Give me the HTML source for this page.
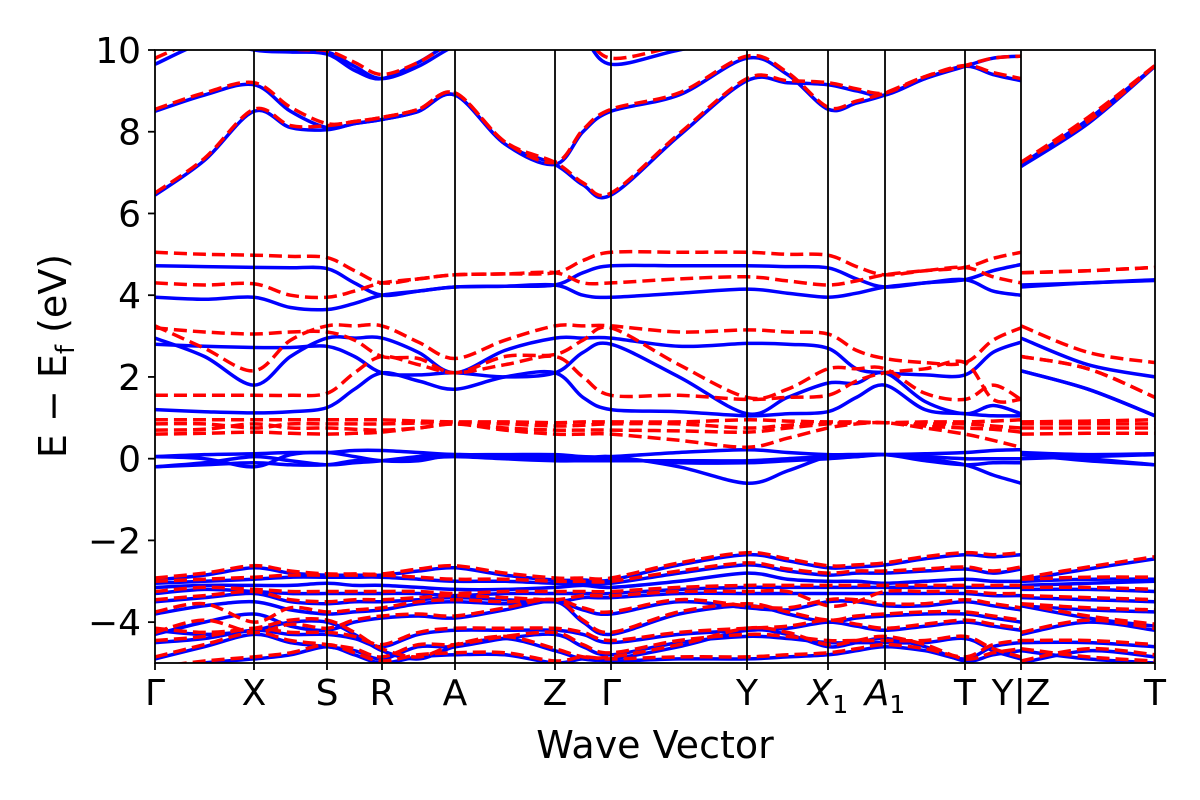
<!DOCTYPE html>
<html><head><meta charset="utf-8"><style>
html,body{margin:0;padding:0;background:#fff;}
svg text{font-family:"DejaVu Sans","Liberation Sans",sans-serif;fill:#000;}
</style></head><body>
<svg id="chart" width="1200" height="800" viewBox="0 0 1200 800" xmlns="http://www.w3.org/2000/svg" style="position:absolute;left:0;top:0">
<g id="bands"></g>
<g id="axes"></g>
</svg>
<script>
// high-symmetry point path coordinates
const tickK = [0,0.99,1.72,2.27,3.0,4.0,4.56,5.92,6.73,7.30,8.10,8.66,10.0];
const tickLabels = ["Γ","X","S","R","A","Z","Γ","Y","X1","A1","T","Y|Z","T"];
const yTicks = [-4,-2,0,2,4,6,8,10];
// band energies sampled at [Γ,m,X,m,S,m,R,m,A,m,Z,m,Γ,m,Y,m,X1,m,A1,m,T,m,Y | Z,m,T]
const blueBands = [
[6.45,7.3,8.5,8.1,8.05,8.2,8.3,8.5,8.9,7.7,7.2,6.7,6.45,7.9,9.25,9.2,9.15,9.0,8.9,9.3,9.6,9.4,9.25, 7.15,8.2,9.6],
[8.5,8.9,9.15,8.5,8.1,8.2,8.3,8.5,8.9,7.7,7.2,8.0,8.5,8.9,9.8,9.4,8.55,8.7,8.9,9.3,9.6,9.8,9.85, 7.2,8.3,9.6],
[9.65,10.2,10.5,10.0,9.95,9.6,9.3,9.6,10.1,10.5,10.5,10.3,9.65,10.0,10.3,10.5,10.5,10.5,10.5,10.5,10.5,10.5,10.5, 10.5,10.5,10.5],
[10.5,10.3,10.0,9.95,9.9,9.5,9.3,9.7,10.2,10.5,10.5,10.5,10.5,10.5,10.5,10.5,10.5,10.5,10.5,10.5,10.5,10.5,10.5, 10.5,10.5,10.5],
[4.72,4.7,4.68,4.67,4.65,4.3,4.0,4.1,4.2,4.22,4.25,4.55,4.72,4.72,4.72,4.7,4.67,4.4,4.2,4.3,4.38,4.6,4.75, 4.25,4.3,4.38],
[3.95,3.9,3.95,3.7,3.65,3.8,4.0,4.1,4.2,4.22,4.25,4.0,3.95,4.05,4.15,4.05,3.95,4.05,4.2,4.3,4.38,4.1,4.0, 4.2,4.3,4.36],
[2.95,2.5,1.8,2.5,2.95,2.95,2.95,2.6,2.1,2.65,2.95,2.95,2.95,2.75,2.82,2.8,2.7,2.2,2.1,2.05,2.05,2.6,2.85, 2.95,2.3,2.0],
[2.8,2.75,2.72,2.72,2.75,2.5,2.1,2.05,2.1,2.0,2.1,2.6,2.8,2.0,1.1,1.5,1.85,1.85,2.1,1.4,1.1,1.3,1.1, 2.15,1.7,1.05],
[1.2,1.15,1.12,1.15,1.25,1.7,2.1,1.9,1.7,2.0,2.1,1.5,1.2,1.15,1.05,1.1,1.15,1.5,1.8,1.2,1.1,1.05,1.05, 2.15,1.7,1.05],
[0.05,0.1,0.12,0.15,0.15,0.2,0.2,0.15,0.1,0.1,0.1,0.05,0.05,0.15,0.22,0.15,0.1,0.1,0.1,0.12,0.15,0.2,0.22, 0.15,0.1,0.12],
[-0.2,-0.1,0.05,-0.05,-0.15,-0.1,-0.05,0.05,0.1,0.0,-0.05,-0.05,-0.05,-0.05,-0.05,0.0,0.05,0.05,0.1,0.05,0.0,0.0,0.0, 0.0,0.05,0.1],
[0.05,0.0,-0.2,0.1,0.15,0.05,-0.05,-0.05,0.1,0.05,0.05,0.0,0.05,-0.2,-0.6,-0.3,0.05,0.1,0.1,0.0,-0.15,-0.4,-0.6, 0.1,0.0,-0.15],
[-0.2,-0.15,-0.1,-0.15,-0.15,-0.05,-0.05,0.0,0.05,0.0,0.0,0.0,0.0,-0.1,-0.1,-0.05,0.0,0.05,0.1,-0.05,-0.15,-0.1,-0.1, 0.1,-0.05,-0.15],
[-2.97,-2.85,-2.67,-2.8,-2.85,-2.85,-2.85,-2.75,-2.67,-2.85,-2.97,-2.97,-2.97,-2.6,-2.35,-2.5,-2.67,-2.65,-2.6,-2.45,-2.35,-2.4,-2.35, -2.97,-2.7,-2.45],
[-3.05,-3.0,-2.95,-2.9,-2.9,-2.9,-2.9,-2.95,-3.0,-3.0,-3.05,-3.05,-3.05,-2.8,-2.6,-2.75,-2.85,-2.8,-2.8,-2.75,-2.7,-2.8,-2.7, -3.0,-2.95,-2.95],
[-3.15,-3.1,-3.1,-3.1,-3.05,-3.1,-3.1,-3.15,-3.2,-3.2,-3.15,-3.1,-3.15,-3.0,-2.8,-2.95,-3.0,-3.0,-3.05,-3.0,-2.95,-3.0,-3.0, -3.1,-3.05,-3.0],
[-3.3,-3.2,-3.25,-3.3,-3.3,-3.3,-3.3,-3.3,-3.35,-3.3,-3.3,-3.3,-3.3,-3.2,-3.15,-3.15,-3.15,-3.15,-3.15,-3.15,-3.15,-3.15,-3.15, -3.2,-3.2,-3.25],
[-3.5,-3.4,-3.3,-3.5,-3.55,-3.5,-3.5,-3.45,-3.4,-3.45,-3.5,-3.4,-3.4,-3.3,-3.3,-3.3,-3.3,-3.3,-3.3,-3.3,-3.3,-3.35,-3.35, -3.4,-3.45,-3.5],
[-3.8,-3.6,-3.5,-3.7,-3.8,-3.75,-3.7,-3.55,-3.5,-3.55,-3.5,-3.7,-3.8,-3.5,-3.65,-3.7,-3.5,-3.5,-3.6,-3.6,-3.5,-3.6,-3.7, -3.6,-3.7,-3.75],
[-4.3,-4.0,-3.8,-4.1,-4.2,-4.0,-3.9,-3.85,-3.9,-3.7,-3.5,-4.0,-4.3,-3.8,-3.6,-3.8,-4.0,-3.9,-3.85,-3.8,-3.8,-3.9,-4.0, -3.6,-3.9,-4.1],
[-4.5,-4.4,-4.2,-4.3,-4.3,-4.4,-4.6,-4.3,-4.2,-4.2,-4.2,-4.3,-4.5,-4.3,-4.2,-4.15,-4.0,-4.1,-4.2,-4.1,-4.0,-4.1,-4.2, -4.3,-4.0,-4.2],
[-4.9,-4.6,-4.3,-4.5,-4.6,-4.7,-4.9,-4.6,-4.6,-4.4,-4.3,-4.6,-4.8,-4.5,-4.35,-4.4,-4.5,-4.5,-4.5,-4.5,-4.4,-4.7,-4.9, -4.5,-4.5,-4.6],
[-5.2,-5.0,-4.9,-4.8,-4.6,-4.8,-5.0,-4.85,-4.8,-4.8,-5.0,-4.9,-4.95,-4.9,-4.9,-4.85,-4.8,-4.7,-4.6,-4.7,-4.9,-4.6,-4.5, -5.0,-4.7,-4.85],
[-4.2,-4.3,-4.2,-4.0,-4.0,-4.3,-4.7,-4.9,-4.6,-4.4,-4.7,-4.9,-4.9,-4.6,-4.2,-4.3,-4.6,-4.5,-4.4,-4.6,-4.95,-4.8,-4.7, -4.7,-4.9,-5.0]
];
const redBands = [
[6.5,7.35,8.55,8.15,8.15,8.25,8.35,8.55,8.95,7.75,7.25,6.75,6.5,7.95,9.3,9.25,9.2,9.05,8.95,9.35,9.62,9.45,9.3, 7.25,8.25,9.62],
[8.55,8.95,9.2,8.6,8.2,8.25,8.35,8.55,8.95,7.75,7.25,8.05,8.55,8.95,9.85,9.45,8.6,8.75,8.95,9.35,9.62,9.8,9.85, 7.25,8.35,9.62],
[9.8,10.3,10.5,10.05,9.98,9.7,9.4,9.7,10.2,10.5,10.5,10.4,9.8,10.1,10.4,10.5,10.5,10.5,10.5,10.5,10.5,10.5,10.5, 10.5,10.5,10.5],
[5.05,5.0,4.98,4.95,4.92,4.6,4.3,4.4,4.5,4.52,4.55,4.85,5.05,5.05,5.05,5.0,4.98,4.7,4.5,4.6,4.68,4.9,5.05, 4.55,4.6,4.68],
[4.3,4.25,4.28,4.0,3.95,4.1,4.3,4.4,4.5,4.52,4.55,4.3,4.3,4.4,4.45,4.35,4.25,4.35,4.5,4.6,4.68,4.45,4.3, 4.55,4.6,4.68],
[3.25,2.7,2.15,2.9,3.25,3.25,3.25,2.85,2.45,2.9,3.25,3.25,3.25,3.1,3.15,3.1,3.05,2.65,2.45,2.35,2.35,2.9,3.2, 3.25,2.6,2.35],
[3.2,3.1,3.05,3.1,3.1,2.9,2.5,2.45,2.1,2.5,2.55,2.9,3.2,2.3,1.5,1.7,2.2,2.2,2.2,1.6,1.45,1.8,1.45, 2.5,2.2,1.5],
[1.55,1.55,1.55,1.55,1.6,2.1,2.5,2.3,2.1,2.3,2.5,2.0,1.55,1.55,1.45,1.5,1.55,1.9,2.1,2.2,2.35,1.45,1.45, 2.5,2.2,1.5],
[0.95,0.95,0.95,0.95,0.95,0.95,0.95,0.92,0.9,0.9,0.88,0.9,0.9,0.9,0.95,0.92,0.9,0.9,0.88,0.9,0.9,0.92,0.95, 0.9,0.92,0.95],
[0.85,0.85,0.75,0.85,0.85,0.85,0.85,0.87,0.88,0.85,0.8,0.82,0.85,0.85,0.75,0.82,0.88,0.88,0.88,0.85,0.85,0.8,0.75, 0.85,0.85,0.85],
[0.7,0.72,0.85,0.75,0.75,0.72,0.7,0.75,0.85,0.75,0.7,0.7,0.7,0.68,0.65,0.75,0.85,0.87,0.88,0.8,0.75,0.72,0.65, 0.75,0.75,0.75],
[0.6,0.62,0.65,0.62,0.6,0.62,0.65,0.75,0.85,0.7,0.6,0.6,0.6,0.45,0.28,0.5,0.75,0.85,0.88,0.75,0.6,0.45,0.28, 0.6,0.62,0.62],
[-2.92,-2.8,-2.62,-2.75,-2.82,-2.82,-2.82,-2.7,-2.62,-2.8,-2.92,-2.92,-2.92,-2.55,-2.3,-2.45,-2.62,-2.6,-2.55,-2.4,-2.3,-2.35,-2.3, -2.92,-2.65,-2.4],
[-3.0,-2.95,-2.9,-2.85,-2.85,-2.85,-2.85,-2.9,-2.95,-2.95,-3.0,-3.0,-3.0,-2.75,-2.55,-2.7,-2.8,-2.75,-2.75,-2.7,-2.65,-2.75,-2.65, -2.95,-2.9,-2.9],
[-3.25,-3.15,-3.2,-3.25,-3.25,-3.25,-3.25,-3.25,-3.3,-3.25,-3.25,-3.25,-3.25,-3.15,-3.1,-3.1,-3.1,-3.1,-3.1,-3.1,-3.1,-3.1,-3.1, -3.15,-3.15,-3.2],
[-3.45,-3.35,-3.25,-3.45,-3.5,-3.45,-3.45,-3.4,-3.35,-3.4,-3.45,-3.35,-3.35,-3.25,-3.25,-3.25,-3.6,-3.5,-3.25,-3.25,-3.25,-3.3,-3.3, -3.35,-3.4,-3.45],
[-3.75,-3.55,-4.0,-3.65,-3.75,-3.7,-3.65,-3.5,-3.45,-3.5,-3.45,-3.65,-3.75,-3.45,-3.6,-3.65,-3.45,-3.45,-3.55,-3.55,-3.45,-3.55,-3.65, -3.55,-3.65,-3.7],
[-4.25,-3.95,-4.25,-4.05,-4.15,-3.95,-3.85,-3.8,-3.85,-3.65,-3.45,-3.95,-4.25,-3.75,-3.55,-3.75,-3.95,-3.85,-3.8,-3.75,-3.75,-3.85,-3.95, -3.55,-3.85,-4.05],
[-4.45,-4.35,-4.15,-4.25,-4.25,-4.35,-4.55,-4.25,-4.15,-4.15,-4.15,-4.25,-4.45,-4.25,-4.15,-4.1,-3.95,-4.05,-4.15,-4.05,-3.95,-4.05,-4.15, -4.25,-3.95,-4.15],
[-4.85,-4.55,-4.25,-4.45,-4.55,-4.65,-4.85,-4.55,-4.55,-4.35,-4.25,-4.55,-4.75,-4.45,-4.3,-4.35,-4.45,-4.45,-4.45,-4.45,-4.35,-4.65,-4.85, -4.45,-4.45,-4.55],
[-5.1,-4.95,-4.85,-4.75,-4.55,-4.75,-4.95,-4.8,-4.75,-4.75,-4.95,-4.85,-4.9,-4.85,-4.85,-4.8,-4.75,-4.65,-4.55,-4.65,-4.85,-4.55,-4.45, -4.95,-4.65,-4.8],
[-4.15,-4.25,-4.15,-3.95,-3.95,-4.25,-4.65,-4.85,-4.55,-4.35,-4.65,-4.85,-4.85,-4.55,-4.15,-4.25,-4.55,-4.45,-4.35,-4.55,-4.9,-4.75,-4.65, -4.65,-4.85,-4.95]
];

const NS='http://www.w3.org/2000/svg';
const L=155,R=1155,T=50,B=663,yMin=-5,yMax=10,kMax=10;
function xs(k){return L+(k/kMax)*(R-L);}
function ys(e){return T+(yMax-e)/(yMax-yMin)*(B-T);}
function mk(tag,attrs,parent){const el=document.createElementNS(NS,tag);for(const a in attrs)el.setAttribute(a,attrs[a]);parent.appendChild(el);return el;}
const svg=document.getElementById('chart');
const defs=mk('defs',{},svg);
const cp=mk('clipPath',{id:'plotclip'},defs);
mk('rect',{x:L,y:T,width:R-L,height:B-T},cp);
const mainKs=[];for(let i=0;i<11;i++){mainKs.push(tickK[i]);mainKs.push((tickK[i]+tickK[i+1])/2);}mainKs.push(tickK[11]);
const lastK=[tickK[11],(tickK[11]+tickK[12])/2,tickK[12]];
function smooth(pts){
  let d='M'+pts[0][0].toFixed(1)+','+pts[0][1].toFixed(1);
  for(let i=0;i<pts.length-1;i++){
    const p0=pts[i-1]||pts[i],p1=pts[i],p2=pts[i+1],p3=pts[i+2]||pts[i+1];
    const c1=[p1[0]+(p2[0]-p0[0])/6,p1[1]+(p2[1]-p0[1])/6];
    const c2=[p2[0]-(p3[0]-p1[0])/6,p2[1]-(p3[1]-p1[1])/6];
    d+=' C'+c1[0].toFixed(1)+','+c1[1].toFixed(1)+' '+c2[0].toFixed(1)+','+c2[1].toFixed(1)+' '+p2[0].toFixed(1)+','+p2[1].toFixed(1);
  }
  return d;
}
const gb=document.getElementById('bands');
gb.setAttribute('clip-path','url(#plotclip)');
function drawBands(list,color,dash,name){
  list.forEach((b)=>{
    const p1=mainKs.map((k,i)=>[xs(k),ys(b[i])]);
    const p2=lastK.map((k,i)=>[xs(k),ys(b[23+i])]);
    const path=mk('path',{d:smooth(p1)+' '+smooth(p2),fill:'none',stroke:color,'stroke-width':3.5,'stroke-dasharray':dash,'stroke-linejoin':'round'},gb);
    
    
  });
}
drawBands(blueBands,'#0000ff','none','blue-band');
drawBands(redBands,'#ff0000','13,6','red-band');
const ga=document.getElementById('axes');
tickK.forEach((k,i)=>{
  if(i===0||i===tickK.length-1)return;
  const ln=mk('line',{x1:xs(k),x2:xs(k),y1:T,y2:B,stroke:'#000','stroke-width':1.8},ga);
  
  
});
const frame=mk('rect',{x:L,y:T,width:R-L,height:B-T,fill:'none',stroke:'#000','stroke-width':1.8},ga);


yTicks.forEach(v=>{
  mk('line',{x1:L-7,x2:L,y1:ys(v),y2:ys(v),stroke:'#000','stroke-width':1.8},ga);
  const t=mk('text',{x:L-14,y:ys(v)+13,'text-anchor':'end','font-size':36},ga);
  t.textContent=v<0?'\u2212'+Math.abs(v):String(v);
  
  
});
tickK.forEach((k,i)=>{
  mk('line',{x1:xs(k),x2:xs(k),y1:B,y2:B+7,stroke:'#000','stroke-width':1.8},ga);
  const lab=tickLabels[i];
  const t=mk('text',{x:xs(k),y:B+42,'text-anchor':'middle','font-size':36},ga);
  if(lab==='X1'||lab==='A1'){
    const a=document.createElementNS(NS,'tspan');a.setAttribute('font-style','italic');a.textContent=lab[0];t.appendChild(a);
    const s=document.createElementNS(NS,'tspan');s.setAttribute('font-size','25');s.setAttribute('dy','8');s.textContent='1';t.appendChild(s);
  } else t.textContent=lab;
  
  
});
</script>
<svg style="position:absolute;left:0;top:0" width="1200" height="800">
<text x="655" y="758" text-anchor="middle" font-size="38">Wave Vector</text>
<text transform="translate(66,356) rotate(-90)" text-anchor="middle" font-size="38">E − E<tspan font-size="26" dy="8">f</tspan><tspan dy="-8"> (eV)</tspan></text>
</svg>
</body></html>
